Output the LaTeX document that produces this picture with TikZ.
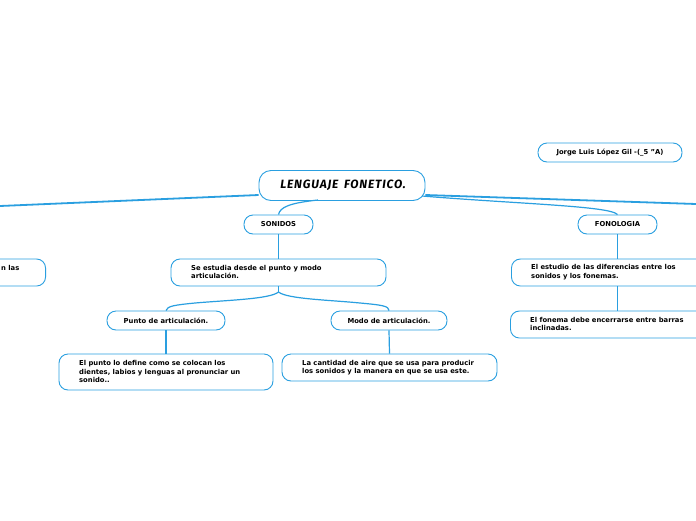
\documentclass[tikz,border=0pt]{standalone}
\usepackage{fontspec}
\setmainfont{DejaVu Sans}
\newfontfamily\titlefont[LetterSpace=7,WordSpace=1.6]{Fira Sans}
\begin{document}
\begin{tikzpicture}[x=1pt,y=-1pt,
  every node/.style={inner sep=0pt},
  bx/.style={draw=lblue, line width=0.9pt, rounded corners=9pt, fill=white},
  txt/.style={font=\bfseries\fontsize{6.8}{8.6}\selectfont, align=left, text=black},
  conn/.style={draw=lblue, line width=1.2pt},
  thick conn/.style={draw=lblue, line width=1.8pt}]
\definecolor{lblue}{HTML}{2A9FE0}
\useasboundingbox (0,0) rectangle (696,520);
\fill[white] (0,0) rectangle (696,520);

% main node
\node[bx, minimum width=166pt, minimum height=30pt, rounded corners=12pt] (main) at (342,185.5) {};
\node[font=\titlefont\bfseries\itshape\fontsize{12}{14}\selectfont] (maint) at (343,185.5) {LENGUAJE FONETICO.};

% connectors from main
\coordinate (lend) at (0,206);
\coordinate (rend) at (696,204);
\draw[thick conn] (main.west |- 0,195) -- (lend);
\draw[thick conn] (main.east |- 0,195) -- (rend);

\node[bx, minimum width=144pt, minimum height=19pt] (author) at (610,152.5) {};
\node[txt] at (author) {Jorge Luis López Gil -(\_5 "A)};

\node[bx, minimum width=69pt, minimum height=19pt] (son) at (278.5,224.5) {};
\node[txt] at (son) {SONIDOS};
\node[bx, minimum width=79pt, minimum height=19pt] (fon) at (617.5,224.5) {};
\node[txt] at (fon) {FONOLOGIA};

\draw[conn] (318,200) .. controls (290,203) and (280,207) .. (son.north);
\draw[conn] (422,196) .. controls (520,204) and (610,206) .. (fon.north);

% left partial node
\node[bx, minimum width=120pt, minimum height=27pt, anchor=east] (left) at (46,272.5) {};
\node[txt, anchor=east] at (19.5,268) {n las};

% Se estudia
\node[bx, minimum width=215pt, minimum height=27pt] (se) at (278.5,272.5) {};
\node[txt, anchor=west] at (191,272) {Se estudia desde el punto y modo\\articulación.};
\draw[conn] (son.south) -- (se.north);

% FONOLOGIA children
\node[bx, minimum width=200pt, minimum height=27pt, anchor=west] (est) at (511,272.5) {};
\node[txt, anchor=west] at (531,272) {El estudio de las diferencias entre los\\sonidos y los fonemas.};
\node[bx, minimum width=200pt, minimum height=27pt, anchor=west] (fonema) at (510,324.5) {};
\node[txt, anchor=west] at (530,324) {El fonema debe encerrarse entre barras\\inclinadas.};
\draw[conn] (617.5,234) -- (617.5,259);
\draw[conn] (617.5,286) -- (617.5,311);

% Punto / Modo
\node[bx, minimum width=118pt, minimum height=19pt] (pto) at (166,320.5) {};
\node[txt] at (pto) {Punto de articulación.};
\node[bx, minimum width=116pt, minimum height=19pt] (modo) at (389,320.5) {};
\node[txt] at (modo) {Modo de articulación.};

\coordinate (br) at (278.5,292);
\draw[conn] (se.south) -- (br);
\draw[conn] (br) .. controls (270,299) and (230,300) .. (195,303) .. controls (175,305) and (167,306) .. (pto.north);
\draw[conn] (br) .. controls (287,299) and (330,300) .. (360,303) .. controls (382,305) and (389,306) .. (modo.north);

\node[bx, minimum width=214pt, minimum height=36pt] (pdef) at (166,372) {};
\node[txt, anchor=west] at (79,371.5) {El punto lo define como se colocan los\\dientes, labios y lenguas al pronunciar un\\sonido..};
\node[bx, minimum width=215pt, minimum height=27pt] (cant) at (389.5,367.5) {};
\node[txt, anchor=west] at (302,367.5) {La cantidad de aire que se usa para producir\\los sonidos y la manera en que se usa este.};
\draw[conn] (pto.south) -- (pdef.north);
\draw[conn] (modo.south) -- (cant.north);
\end{tikzpicture}
\end{document}
